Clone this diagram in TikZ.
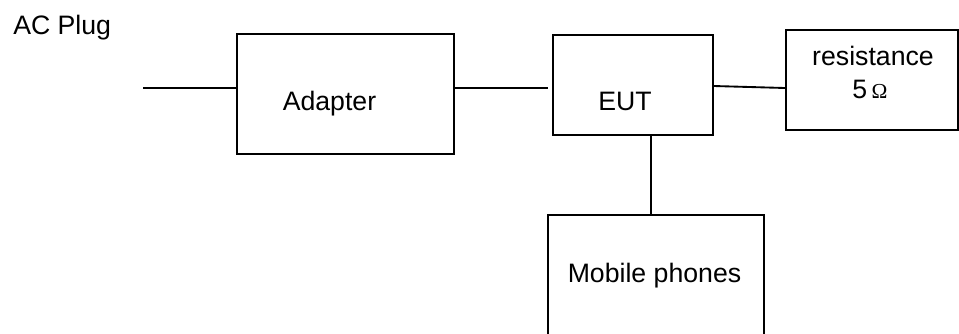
\documentclass[tikz,border=0pt]{standalone}
\usepackage{fontspec}
\setmainfont{Liberation Sans}
\newfontfamily\omegafont{Liberation Serif}
\tikzset{
  px/.style={x=0.75pt,y=-0.75pt},
  blockbox/.style={draw=black,line width=1.4pt,rectangle,inner sep=0pt,anchor=north west},
  conn/.style={draw=black,line width=1.4pt},
  lbl/.style={inner sep=0pt,font=\fontsize{20pt}{24pt}\selectfont,text=black,align=center}
}
\begin{document}
\begin{tikzpicture}[px]
\useasboundingbox (0,0) rectangle (959,333);
\clip (0,0) rectangle (959,333);
\node[blockbox,minimum width=162.6pt,minimum height=90pt] (adapter) at (236,33) {};
\node[blockbox,minimum width=120pt,minimum height=75pt] (eut) at (552,34) {};
\node[blockbox,minimum width=129pt,minimum height=75pt] (res) at (785,29) {};
\node[blockbox,minimum width=162pt,minimum height=120pt] (mobile) at (546.8,214) {};
\coordinate (plug) at (143,88);
\coordinate (adout) at (454,88);
\coordinate (eutin) at (548,88);
\draw[conn] (plug) -- (plug -| adapter.west);
\draw[conn] (adout) -- (eutin);
\draw[conn] (eut.east |- 0,86) -- (res.west |- 0,88);
\draw[conn] (651,0 |- eut.south) -- (651,0 |- mobile.north);
\node[lbl,anchor=base west] (ac) at (13,34.5) {AC Plug};
\node[lbl,anchor=base] (adtxt) at (329.5,110) {Adapter};
\node[lbl,anchor=base] (euttxt) at (625,110.5) {EUT};
\node[lbl,anchor=base] (restxt) at (873,65) {resistance};
\node[lbl,anchor=base] (fivetxt) at (870,98) {5\,{\omegafont\fontsize{16pt}{18pt}\selectfont Ω}};
\node[lbl,anchor=base] (mobtxt) at (654.5,282.5) {Mobile phones};
\end{tikzpicture}
\end{document}
